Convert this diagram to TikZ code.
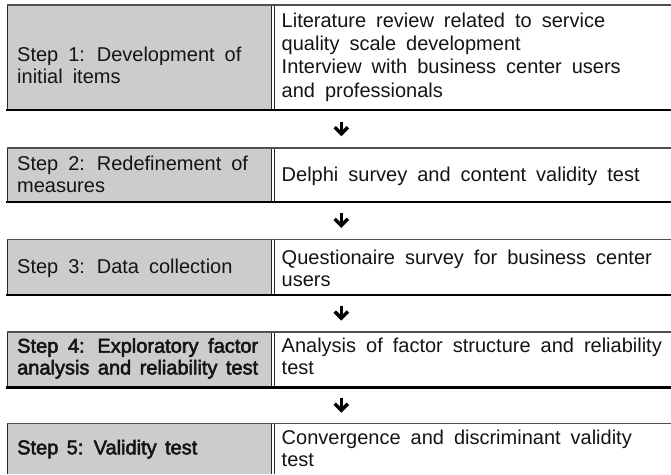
\documentclass[tikz,border=0pt]{standalone}
\usepackage{fontspec}
\setmainfont{Liberation Sans}
\newfontfamily\fbold[FakeBold=2.6]{Liberation Sans}
\definecolor{cellgrey}{RGB}{204,204,204}
\definecolor{rulegrey}{RGB}{80,80,80}
\definecolor{ink}{RGB}{20,20,20}
\newcommand\tfont{\fontsize{20pt}{21.7pt}\selectfont\spaceskip=0.5em plus 0.3em minus 0.15em\relax}
\newcommand\bfont{\fbold\fontsize{20pt}{21.7pt}\selectfont\spaceskip=0.42em plus 0.4em minus 0.25em\relax}
\tikzset{
  txt/.style={inner sep=0pt, anchor=base west, text=ink, font=\tfont},
  btxt/.style={txt, font=\bfont},
  cellfill/.style={fill=cellgrey},
  toprule/.style={draw=rulegrey, line width=1.1pt},
  botrule/.style={draw=black, line width=2.6pt},
  siderule/.style={draw=black!85, line width=0.9pt},
  downarrow/.style={draw=black, line width=3.4pt, line join=miter, line cap=butt},
}
\begin{document}
\begin{tikzpicture}[x=1pt,y=-1pt]
\useasboundingbox (0,0) rectangle (671,474);
% rows with bottom rule
\foreach \t/\b in {5/110, 148/202, 239.5/294.8, 332/387.2}{
  \fill[cellfill] (7.3,\t) rectangle (271.7,\b);
  \draw[siderule] (7.3,\t) -- (7.3,\b);
  \draw[siderule] (271.7,\t) -- (271.7,\b);
  \draw[siderule] (274.3,\t) -- (274.3,\b);
  \draw[toprule] (7.3,\t) -- (671,\t);
  \draw[botrule] (6,\b) -- (671,\b);
}
% last row (cropped at the bottom)
\fill[cellfill] (7.3,423.8) rectangle (271.7,474);
\draw[siderule] (7.3,423.8) -- (7.3,474);
\draw[siderule] (271.7,423.8) -- (271.7,474);
\draw[siderule] (274.3,423.8) -- (274.3,474);
\draw[toprule] (7.3,423.8) -- (671,423.8);

% arrows between rows
\foreach \c [count=\i] in {129,220.7,313.4,405.5}{
  \coordinate (arrs\i) at (341.3,\c-7.5);
  \coordinate (arre\i) at (341.3,\c+4.8);
  \draw[downarrow] (arrs\i) -- (arre\i);
  \draw[downarrow] ([shift={(-6.6,-6.6)}]arre\i) -- (arre\i) -- ([shift={(6.6,-6.6)}]arre\i);
}

% left column
\node[txt] (l1) at (17,61.3) {\vtop{\hbox{Step 1: Development of}\hbox{initial items}}};
\node[txt] (l2) at (17,170.5) {\vtop{\hbox{Step 2: Redefinement of}\hbox{measures}}};
\node[txt] (l3) at (17,273.3) {Step 3: Data collection};
\node[btxt] (l4) at (17,352.7) {\vtop{\hbox{\makebox[241pt][s]{Step 4: Exploratory factor}}\hbox{\makebox[241pt][s]{analysis and reliability test}}}};
\node[btxt] (l5) at (17,454.3) {Step 5: Validity test};

% right column
\node[txt] (r1) at (281.5,27.5) {\vtop{\baselineskip=23.2pt\hbox{Literature review related to service}\hbox{quality scale development}\hbox{Interview with business center users}\hbox{and professionals}}};
\node[txt] (r2) at (281.5,181.5) {Delphi survey and content validity test};
\node[txt] (r3) at (281.5,264.3) {\vtop{\hbox{Questionaire survey for business center}\hbox{users}}};
\node[txt] (r4) at (281.5,352.7) {\vtop{\hbox{Analysis of factor structure and reliability}\hbox{test}}};
\node[txt] (r5) at (281.5,444.3) {\vtop{\hbox{Convergence and discriminant validity}\hbox{test}}};
\end{tikzpicture}
\end{document}
